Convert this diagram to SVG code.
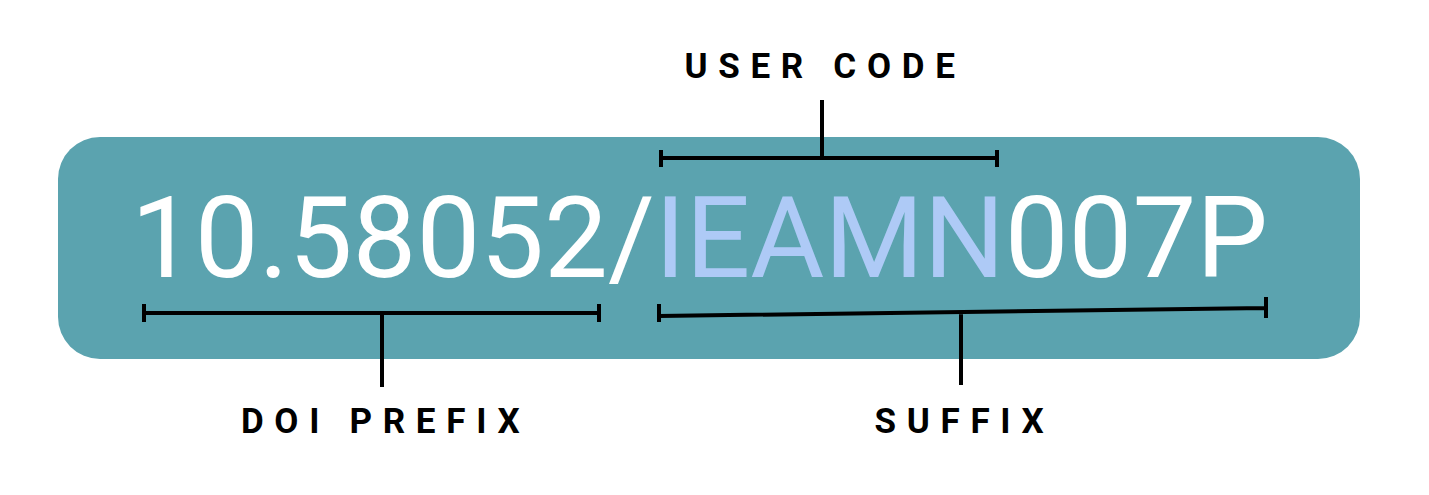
<svg xmlns="http://www.w3.org/2000/svg" width="1429" height="495" viewBox="0 0 1429 495">
<style>
.lbl{font-family:Roboto,"Liberation Sans",sans-serif;font-weight:700;font-size:35px;letter-spacing:10.7px;fill:#000;text-anchor:middle}
.big{font-family:Roboto,"Liberation Sans",sans-serif;font-size:114px;fill:#fff}
.br{stroke:#000;stroke-width:4;fill:none}
</style>
<rect width="1429" height="495" fill="#fff"/>
<g id="box">
<rect x="58" y="137" width="1302" height="222" rx="42" fill="#5BA3AF"/>
<text class="big" x="131" y="277" textLength="1137" lengthAdjust="spacingAndGlyphs">10.58052/<tspan fill="#AECAF6">IEAMN</tspan>007P</text>
</g>
<g id="user-code"><text class="lbl" x="825" y="78">USER CODE</text></g>
<g id="doi-prefix"><text class="lbl" x="385.6" y="433">DOI PREFIX</text></g>
<g id="suffix"><text class="lbl" x="964.5" y="433">SUFFIX</text></g>
<g id="connectors" class="br">
<path d="M822 100V158M661 158H997M661 150V167M997 150V167"/>
<path d="M382 313V387M144 313H599M144 304V322M599 304V322"/>
<path d="M961 312V385M659 316L1266 308M659 304V322M1266 297V318"/>
</g>
</svg>
